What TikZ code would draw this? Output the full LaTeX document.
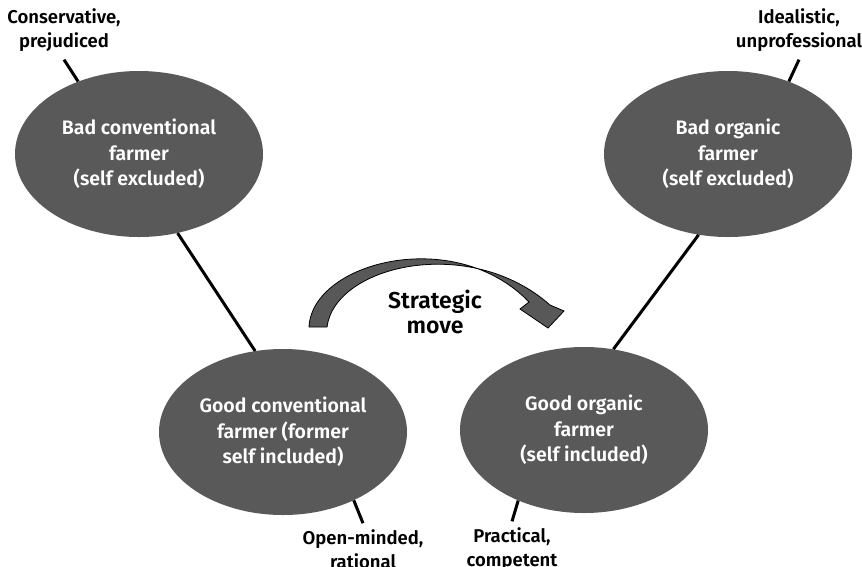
\documentclass[tikz,border=0pt]{standalone}
\usepackage{fontspec}
\setmainfont{Fira Sans}[BoldFont={* SemiBold}]
\usetikzlibrary{shapes.geometric}

\definecolor{farmgray}{HTML}{595959}
\definecolor{arrowgray}{HTML}{585858}

\tikzset{
  farmer/.style={ellipse, fill=farmgray, text=white, align=center,
    minimum width=248pt, minimum height=166pt,
    font=\bfseries\fontsize{19.5}{25.5}\selectfont, inner sep=0pt},
  trait/.style={align=center, font=\bfseries\fontsize{18.5}{24}\selectfont, inner sep=1pt},
  link/.style={line width=3pt}
}

\begin{document}
\begin{tikzpicture}[x=1pt, y=-1pt]
			\useasboundingbox (0,0) rectangle (862,566);

			% Farmer identities
			\node[farmer] (badconv) at (139,154) {Bad conventional\\farmer\\(self excluded)};
			\node[farmer] (badorg) at (728,154) {Bad organic\\farmer\\(self excluded)};
			\node[farmer] (goodconv) at (283,432) {Good conventional\\farmer (former\\self included)};
			\node[farmer] (goodorg) at (584,430) {Good organic\\farmer\\(self included)};

			% Traits
			\node[trait] (cons) at (64,30) {Conservative,\\prejudiced};
			\node[trait] (ideal) at (799,30) {Idealistic,\\unprofessional};
			\node[trait] (open) at (363,549) {Open-minded,\\rational};
			\node[trait] (pract) at (512,549) {Practical,\\competent};

			% Links
			\draw[link] (badconv.-64) -- (goodconv.109);
			\draw[link] (badorg.250) -- (goodorg.70);
			\draw[link] ([yshift=-7pt]cons.south) -- (badconv.130);
			\draw[link] ([yshift=-7pt]ideal.south) -- (badorg.50);
			\draw[link] ([yshift=5pt]open.north) -- (goodconv.-44);
			\draw[link] ([yshift=5pt]pract.north) -- (goodorg.227);

			% Strategic move
			\draw[fill=arrowgray, line width=0.8pt, line join=miter]
				(309,327) .. controls (312,262) and (455,225) .. (529,302)
				-- (520,309) -- (548,328) -- (564,311) -- (550,305)
				.. controls (470,234) and (335,265) .. (327,327) -- cycle;
			\node[font=\bfseries\fontsize{23}{25}\selectfont, align=center] (move) at (435,312) {Strategic\\move};
		\end{tikzpicture}
\end{document}
